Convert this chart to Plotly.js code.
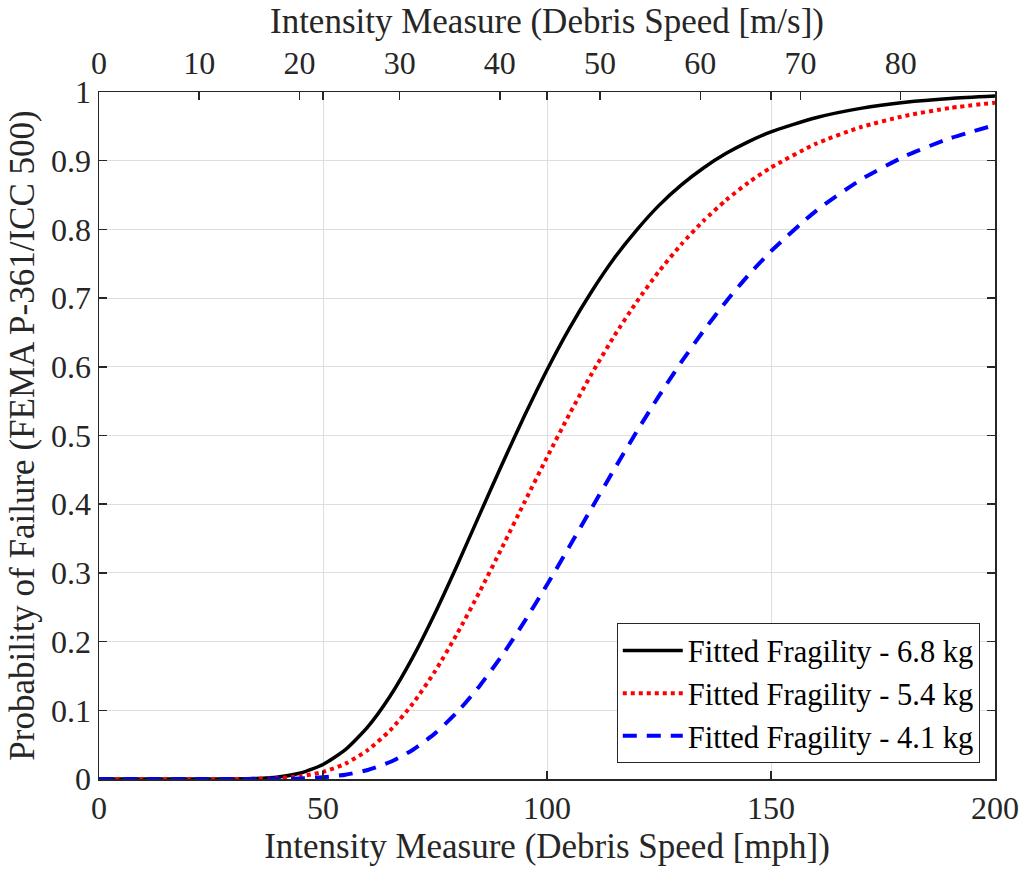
<!DOCTYPE html>
<html>
<head>
<meta charset="utf-8">
<script src="https://cdn.plot.ly/plotly-3.0.1.min.js"></script>
<style>html,body{margin:0;padding:0;background:#fff;}#chart{width:1025px;height:872px;}</style>
</head>
<body>
<div id="chart"></div>
<script>
// Debris speed (mph)
const speedMph = [0,10,20,30,35,40,45,50,55,60,65,70,75,80,85,90,95,100,105,110,115,120,125,130,135,140,145,150,160,170,180,190,200];
// Probability of failure
const pf68 = [0,0,0,0.0001,0.0007,0.0029,0.0087,0.0211,0.0428,0.0759,0.1208,0.1767,0.2414,0.312,0.3855,0.4586,0.529,0.5954,0.656,0.710,0.758,0.799,0.835,0.8648,0.8898,0.9107,0.9278,0.942,0.9626,0.9762,0.985,0.9905,0.994];
const pf54 = [0,0,0,0,0.0003,0.0012,0.004,0.0103,0.0223,0.0421,0.0709,0.1093,0.1568,0.2121,0.273,0.3374,0.4032,0.4682,0.531,0.590,0.6448,0.6944,0.739,0.7784,0.8129,0.8428,0.8684,0.890,0.9246,0.9487,0.9654,0.9768,0.9845];
const pf41 = [0,0,0,0,0,0.0002,0.0008,0.0025,0.0062,0.0131,0.0247,0.0423,0.0664,0.0977,0.1359,0.1802,0.2296,0.2828,0.3383,0.3947,0.4507,0.5054,0.5577,0.607,0.6529,0.6952,0.7337,0.7683,0.8267,0.8722,0.9069,0.9327,0.952];
const seriesNames = ['Fitted Fragility - 6.8 kg','Fitted Fragility - 5.4 kg','Fitted Fragility - 4.1 kg'];
const mphTicks = [0,50,100,150,200];
const msTicks = [0,10,20,30,40,50,60,70,80];
const yTicks = [0,0.1,0.2,0.3,0.4,0.5,0.6,0.7,0.8,0.9,1];
const MPH_TO_MS = 0.44704;

const FONT = '"Liberation Serif", "Times New Roman", Times, "DejaVu Serif", serif';
const AX = '#262626';
const TICK = 32, TITLE = 35;

const traces = [
  {x: speedMph, y: pf68, name: seriesNames[0], mode: 'lines', line: {color: '#000000', width: 3.5, shape: 'spline', smoothing: 0.6}},
  {x: speedMph, y: pf54, name: seriesNames[1], mode: 'lines', line: {color: '#ff0000', width: 4, dash: 'dot', shape: 'spline', smoothing: 0.6}},
  {x: speedMph, y: pf41, name: seriesNames[2], mode: 'lines', line: {color: '#0000ff', width: 4, dash: '14px,10px', shape: 'spline', smoothing: 0.6}},
  {x: speedMph.map(v => v * MPH_TO_MS), y: pf68, xaxis: 'x2', mode: 'lines', opacity: 0, showlegend: false, hoverinfo: 'skip', line: {color: 'rgba(0,0,0,0)'}}
];

const layout = {
  width: 1025, height: 872,
  paper_bgcolor: '#ffffff', plot_bgcolor: '#ffffff',
  margin: {l: 99, r: 30, t: 92, b: 93, pad: 0},
  font: {family: FONT, color: AX, size: 30},
  showlegend: true,
  xaxis: {
    range: [0, 200], tickvals: mphTicks, ticktext: mphTicks.map(String),
    showgrid: true, gridcolor: '#dedede', gridwidth: 1, zeroline: false,
    showline: true, linecolor: AX, linewidth: 1.5, mirror: 'ticks',
    ticks: 'inside', ticklen: 8, tickcolor: AX, tickwidth: 1.5,
    tickfont: {family: FONT, size: TICK, color: AX},
    title: {text: 'Intensity Measure (Debris Speed [mph])', font: {family: FONT, size: TITLE, color: AX}, standoff: 8},
    automargin: false
  },
  xaxis2: {
    overlaying: 'x', side: 'top', anchor: 'y',
    range: [0, 200 * MPH_TO_MS], tickvals: msTicks, ticktext: msTicks.map(String),
    showgrid: false, zeroline: false, showline: false,
    ticks: 'inside', ticklen: 8, tickcolor: AX, tickwidth: 1.5,
    ticklabelstandoff: 11,
    tickfont: {family: FONT, size: TICK, color: AX},
    title: {text: 'Intensity Measure (Debris Speed [m/s])', font: {family: FONT, size: TITLE, color: AX}, standoff: 0},
    automargin: false
  },
  yaxis: {
    range: [0, 1], tickvals: yTicks, ticktext: yTicks.map(String),
    showgrid: true, gridcolor: '#dedede', gridwidth: 1, zeroline: false,
    showline: true, linecolor: AX, linewidth: 1.5, mirror: 'ticks',
    ticks: 'inside', ticklen: 8, tickcolor: AX, tickwidth: 1.5,
    tickfont: {family: FONT, size: TICK, color: AX},
    title: {text: 'Probability of Failure (FEMA P-361/ICC 500)', font: {family: FONT, size: TITLE, color: AX}, standoff: 6},
    automargin: false
  },
  legend: {
    x: 0.983, y: 0.023, xanchor: 'right', yanchor: 'bottom',
    bgcolor: '#ffffff', bordercolor: AX, borderwidth: 1,
    font: {family: FONT, size: 30.5, color: '#000'},
    itemwidth: 60, tracegroupgap: 0
  }
};

Plotly.newPlot('chart', traces, layout, {staticPlot: true, displayModeBar: false});
</script>
</body>
</html>
